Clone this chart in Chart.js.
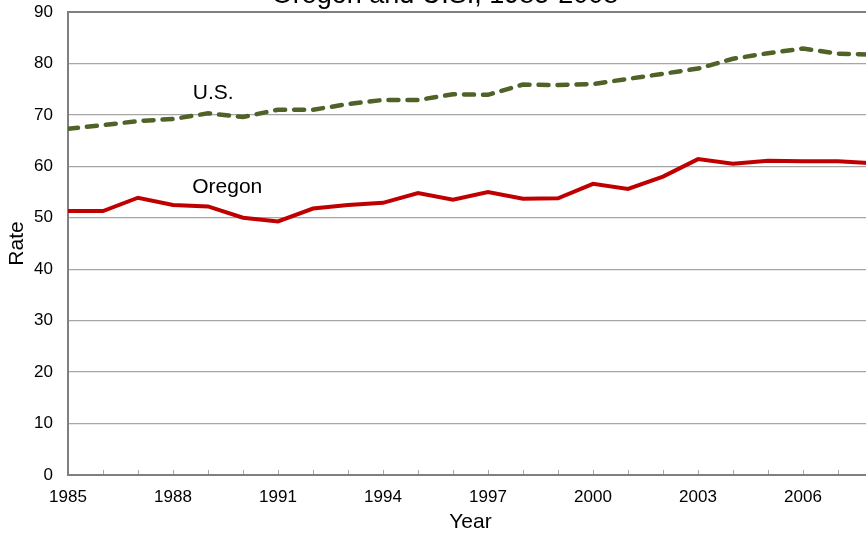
<!DOCTYPE html>
<html>
<head>
<meta charset="utf-8">
<script src="https://cdn.jsdelivr.net/npm/chart.js@4.4.1/dist/chart.umd.min.js"></script>
<style>
    html, body { margin: 0; padding: 0; background: #fff; overflow: hidden; width: 866px; height: 533px; }
    #wrap { position: absolute; left: 0; top: -30px; width: 900px; height: 565px; }
</style>
</head>
<body>
<div id="wrap"><canvas id="rateChart" width="900" height="565"></canvas></div>
<script>
// Data
const years = [1985, 1986, 1987, 1988, 1989, 1990, 1991, 1992, 1993, 1994, 1995, 1996,
               1997, 1998, 1999, 2000, 2001, 2002, 2003, 2004, 2005, 2006, 2007, 2008];
const oregonRates = [51.3, 51.3, 53.9, 52.5, 52.2, 50.0, 49.3, 51.8, 52.5, 52.9, 54.8, 53.5,
                     55.0, 53.7, 53.8, 56.6, 55.6, 58.0, 61.4, 60.5, 61.1, 61.0, 61.0, 60.6];
const usRates = [67.3, 68.0, 68.8, 69.2, 70.3, 69.6, 71.0, 71.0, 72.1, 72.9, 72.9, 74.0,
                 73.9, 75.9, 75.8, 76.0, 77.0, 78.0, 79.0, 80.9, 82.0, 82.9, 81.9, 81.7];
const yTicks = [0, 10, 20, 30, 40, 50, 60, 70, 80, 90];
const xLabelYears = [1985, 1988, 1991, 1994, 1997, 2000, 2003, 2006];

// Series name labels placed inside the plot (year, rate)
const seriesLabels = [
    { text: 'U.S.', year: 1989.15, rate: 74.2 },
    { text: 'Oregon', year: 1989.55, rate: 56.0 }
];
const chartTitle = 'Oregon and U.S., 1985-2008';

const FONT = '"Liberation Sans", Arial, sans-serif';
const AXIS_GREY = '#7f7f7f';
const GRID_GREY = '#a6a6a6';

// Title, inward year ticks and the in-plot series names
const extrasPlugin = {
    id: 'extras',
    afterDatasetsDraw(chart) {
        const ctx = chart.ctx;
        const x = chart.scales.x;
        const y = chart.scales.y;
        const area = chart.chartArea;
        ctx.save();
        // small tick marks pointing up from the x axis, one per year
        ctx.strokeStyle = GRID_GREY;
        ctx.lineWidth = 1;
        years.forEach(yr => {
            if (yr === years[0]) return;
            const px = Math.round(x.getPixelForValue(yr)) + 0.5;
            ctx.beginPath();
            ctx.moveTo(px, area.bottom - 1);
            ctx.lineTo(px, area.bottom - 5);
            ctx.stroke();
        });
        // series names
        ctx.fillStyle = '#000';
        ctx.font = '21px ' + FONT;
        ctx.textAlign = 'center';
        ctx.textBaseline = 'middle';
        seriesLabels.forEach(l => {
            ctx.fillText(l.text, x.getPixelForValue(l.year), y.getPixelForValue(l.rate));
        });
        // title (mostly cut off at the top of the page)
        ctx.font = '27px ' + FONT;
        ctx.textBaseline = 'alphabetic';
        ctx.fillText(chartTitle, 445, 32.5);
        ctx.restore();
    }
};

const ctx = document.getElementById('rateChart').getContext('2d');
new Chart(ctx, {
    type: 'line',
    data: {
        datasets: [
            {
                label: 'U.S.',
                data: years.map((yr, i) => ({ x: yr, y: usRates[i] })),
                borderColor: '#4f6228',
                borderWidth: 4.5,
                borderDash: [10, 9],
                borderCapStyle: 'round',
                pointRadius: 0,
                tension: 0,
                fill: false
            },
            {
                label: 'Oregon',
                data: years.map((yr, i) => ({ x: yr, y: oregonRates[i] })),
                borderColor: '#c00000',
                borderWidth: 4,
                pointRadius: 0,
                tension: 0,
                fill: false
            }
        ]
    },
    options: {
        responsive: false,
        animation: false,
        devicePixelRatio: 1,
        layout: { padding: { top: 42, right: 27, left: 0, bottom: 0 } },
        plugins: {
            legend: { display: false },
            tooltip: { enabled: false },
            title: { display: false }
        },
        scales: {
            x: {
                type: 'linear',
                min: years[0],
                max: years[years.length - 1],
                afterFit: s => { s.height = 60; },
                afterBuildTicks: s => { s.ticks = years.map(v => ({ value: v })); },
                grid: { drawOnChartArea: false, drawTicks: false },
                border: { color: AXIS_GREY, width: 2 },
                ticks: {
                    autoSkip: false,
                    maxRotation: 0,
                    padding: 12,
                    color: '#000',
                    font: { family: FONT, size: 17 },
                    callback: v => xLabelYears.includes(v) ? String(v) : ''
                },
                title: {
                    display: true,
                    text: 'Year',
                    color: '#000',
                    font: { family: FONT, size: 21 },
                    padding: { top: 0, bottom: 0 }
                }
            },
            y: {
                min: 0,
                max: 90,
                afterFit: s => { s.width = 68; },
                afterBuildTicks: s => { s.ticks = yTicks.map(v => ({ value: v })); },
                grid: {
                    drawTicks: false,
                    color: c => c.tick && c.tick.value === 90 ? AXIS_GREY : GRID_GREY,
                    lineWidth: c => c.tick && c.tick.value === 90 ? 2 : 1.3
                },
                border: { color: AXIS_GREY, width: 2 },
                ticks: {
                    padding: 15,
                    color: '#000',
                    font: { family: FONT, size: 17 }
                },
                title: {
                    display: true,
                    text: 'Rate',
                    color: '#000',
                    font: { family: FONT, size: 21 },
                    padding: { top: 5, bottom: 0 }
                }
            }
        }
    },
    plugins: [extrasPlugin]
});
</script>
</body>
</html>
